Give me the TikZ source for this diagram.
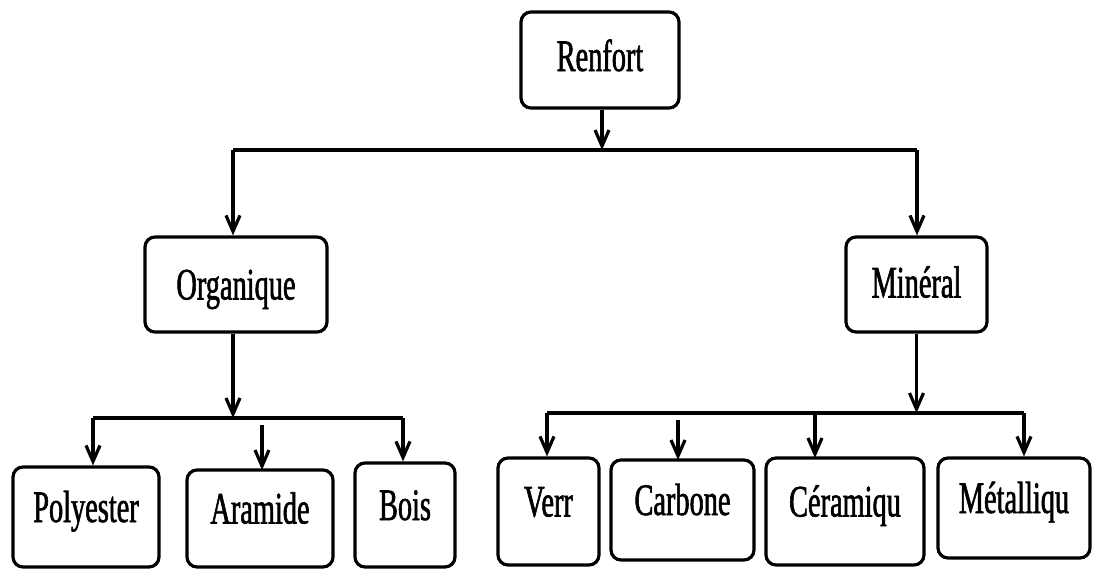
\documentclass[tikz,border=0pt]{standalone}
\usepackage{fontspec}
\newfontfamily\boxfont[FakeStretch=0.63,FakeBold=1.3]{Liberation Serif}
\usetikzlibrary{arrows.meta}
\begin{document}
\begin{tikzpicture}[x=0.5pt, y=-0.5pt, >={Straight Barb[length=8pt,width=7pt]}, line width=1.6pt, line join=round,
  cadre/.style={draw, rounded corners=5pt, line width=1.6pt, inner sep=0pt,
    font=\boxfont\fontsize{22.5}{26}\selectfont, text height=15pt, text depth=0pt},
  bas/.style={cadre, text depth=10pt}]
\useasboundingbox (0,0) rectangle (1094,569);
% niveau 1 et 2
\node[cadre, minimum width=79pt, minimum height=48pt, text depth=4pt] (renfort) at (600,60) {Renfort};
\node[cadre, minimum width=91pt, minimum height=47.5pt] (organique) at (236,284.5) {Organique};
\node[cadre, minimum width=70.5pt, minimum height=47.5pt, text depth=2pt] (mineral) at (916.5,284.5) {Minéral};
% niveau 3
\node[bas, minimum width=73pt, minimum height=50pt] (polyester) at (86,517) {Polyester};
\node[bas, minimum width=73pt, minimum height=48.5pt] (aramide) at (260,518.5) {Aramide};
\node[bas, minimum width=50pt, minimum height=52pt] (bois) at (405,515) {Bois};
\node[bas, minimum width=50.5pt, minimum height=53.5pt] (verr) at (548.5,511.5) {Verr};
\node[bas, minimum width=71.5pt, minimum height=50pt] (carbone) at (682.5,510) {Carbone};
\node[bas, minimum width=79pt, minimum height=53.5pt] (ceramiqu) at (845,511.5) {Céramiqu};
\node[bas, minimum width=76pt, minimum height=50pt] (metalliqu) at (1014,508) {Métalliqu};
% branches
\coordinate (r1) at (233,150); \coordinate (r2) at (917,150);
\coordinate (o1) at (93,418); \coordinate (o2) at (403,418);
\coordinate (m1) at (547,413); \coordinate (m2) at (1024,413);
\draw[->] ([xshift=1pt]renfort.south) -- ([xshift=1pt]renfort.south |- r1);
\draw (r1) -- (r2);
\draw[->] (r1) -- (r1 |- organique.north);
\draw[->] (r2) -- (r2 |- mineral.north);
\draw[->] ([xshift=-1.5pt]organique.south) -- ([xshift=-1.5pt]organique.south |- o1);
\draw (o1) -- (o2);
\draw[->] (o1) -- (o1 |- polyester.north);
\draw[->] (262,425) -- (262,470);
\draw[->] (o2) -- (o2 |- bois.north);
\draw[->] (mineral.south) -- (mineral.south |- m1);
\draw (m1) -- (m2);
\draw[->] (m1) -- (m1 |- verr.north);
\draw[->] (678,420) -- (678,460);
\draw[->] (815,413) -- (815,458);
\draw[->] (m2) -- (m2 |- metalliqu.north);
\end{tikzpicture}
\end{document}
